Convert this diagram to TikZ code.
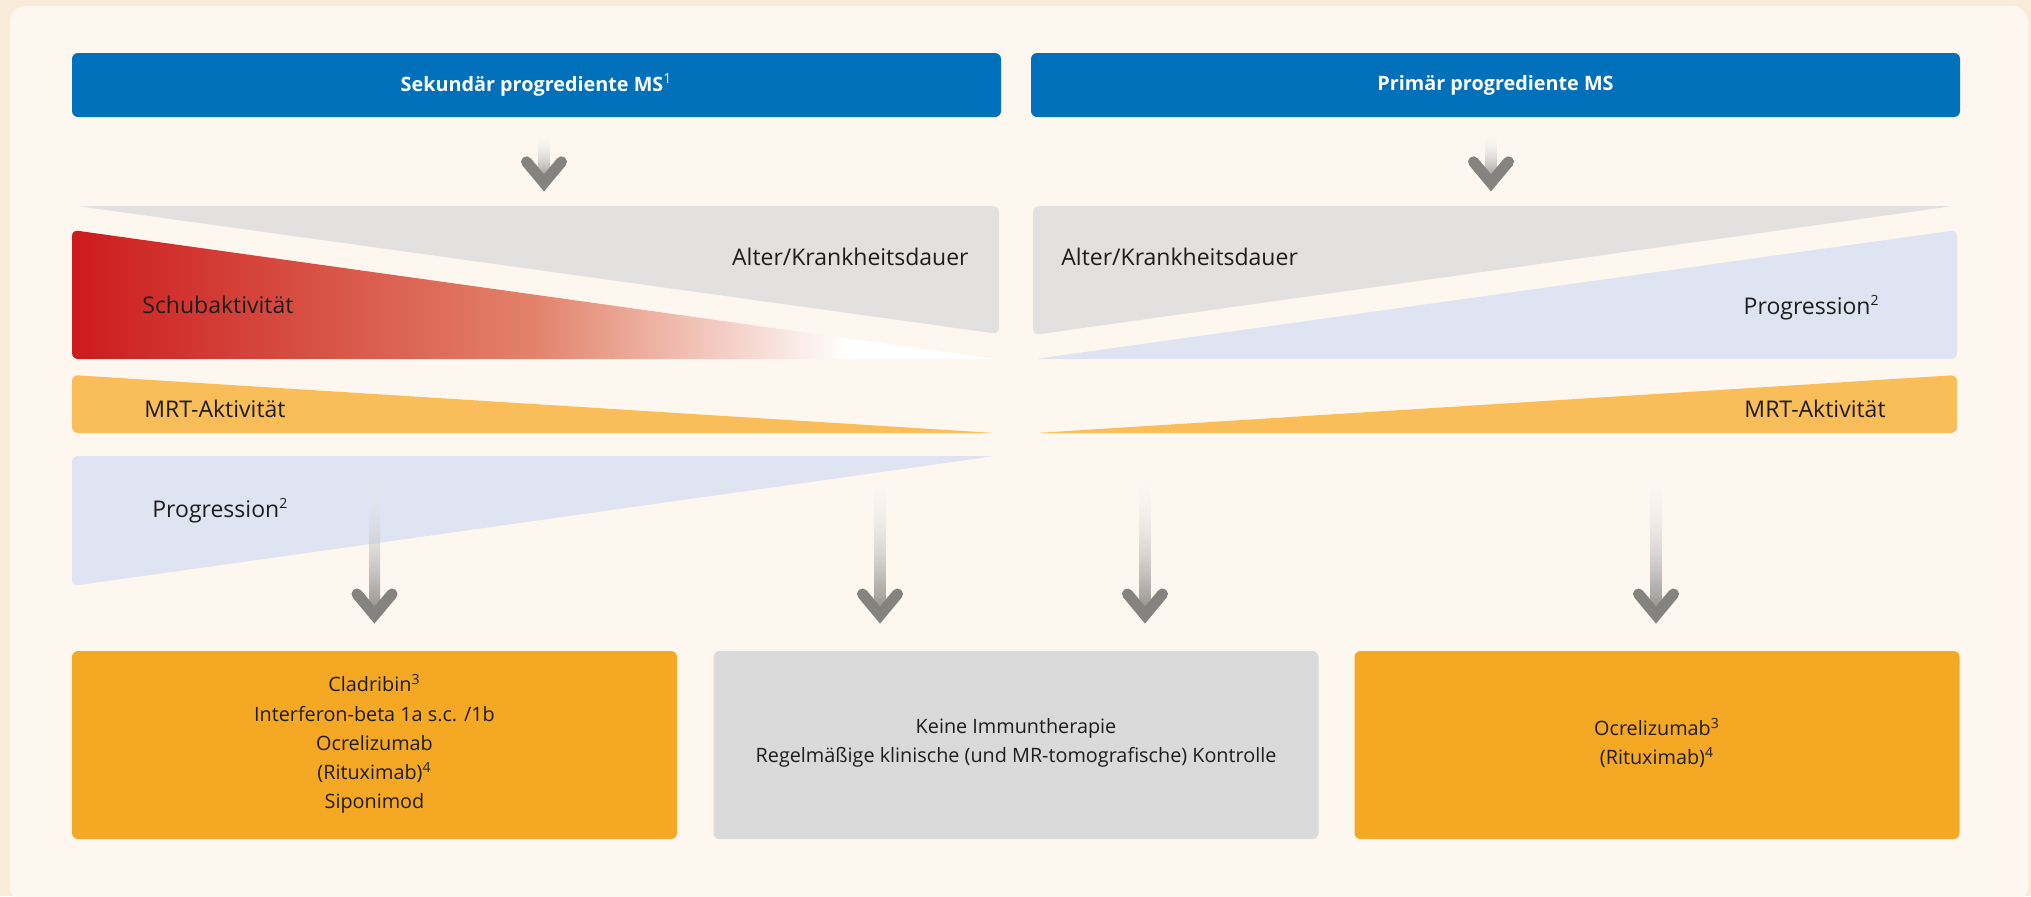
\documentclass[tikz,border=0pt]{standalone}
\usepackage{fontspec}
\setmainfont{Open Sans}
\usetikzlibrary{fadings,calc}
\definecolor{outerbg}{HTML}{F8ECD8}
\definecolor{innerbg}{HTML}{FEF7F0}
\definecolor{hdrblue}{HTML}{0070BA}
\definecolor{wgrey}{HTML}{E2E1DF}
\definecolor{wblue}{HTML}{DEE4F1}
\definecolor{worange}{HTML}{F9BD5A}
\definecolor{wred}{HTML}{CC1B1D}
\definecolor{wredmid}{HTML}{E2826A}
\definecolor{boxorange}{HTML}{F5A823}
\definecolor{boxgrey}{HTML}{DADADA}
\definecolor{arrowgrey}{HTML}{85837F}
\definecolor{txt}{HTML}{1D1D1B}
\pgfdeclarehorizontalshading{redfade}{100bp}{color(0bp)=(wred); color(25bp)=(wred); color(50bp)=(wredmid); color(67bp)=(white); color(100bp)=(white)}
\tikzfading[name=fadetop, top color=transparent!100, bottom color=transparent!0]
\newcommand{\gradarrow}[2]{%
  \path (#1) coordinate (gas) (#2) coordinate (gae);
  \shade[shaft] ($(gas)+(-5.5,0)$) rectangle ($(gae)+(5.5,-12)$);
  \draw[head] ($(gae)+(-17.5,-29.6)$) -- ($(gae)+(0,-8.6)$) -- ($(gae)+(17.5,-29.6)$);
}
\newcommand{\sups}[1]{\textsuperscript{\scriptsize #1}}
\begin{document}
\begin{tikzpicture}[x=0.5pt,y=-0.5pt,
  lbl/.style={font=\fontsize{11.5}{14}\selectfont, text=txt, inner sep=0pt},
  hdr/.style={fill=hdrblue, rounded corners=3pt, minimum width=464.5pt, minimum height=32pt, text=white, font=\fontsize{9.9}{12}\selectfont\bfseries, inner sep=0pt},
  resbox/.style={rounded corners=3pt, minimum width=302.5pt, minimum height=94pt, inner sep=0pt},
  boxtxt/.style={align=center, font=\fontsize{9.9}{14.65}\selectfont, text=txt, inner sep=0pt},
  shaft/.style={top color=arrowgrey!5!white, bottom color=arrowgrey!90!white, path fading=fadetop},
  head/.style={draw=arrowgrey, line width=5.5pt, line cap=round, line join=miter},
  wedge/.style={rounded corners=3pt}
]
\useasboundingbox (0,0) rectangle (2031,896);
\fill[outerbg] (0,0) rectangle (2031,896);
\fill[innerbg, rounded corners=8pt] (10,6) rectangle (2028,902);

% header boxes
\node[hdr] (hdrL) at (536.5,85) {Sekundär progrediente MS\textsuperscript{\mdseries 1}};
\node[hdr] (hdrR) at (1495.5,85) {Primär progrediente MS};

% left wedges
\fill[wgrey, wedge] (77,206) -- (999,206) -- (999,334) -- cycle;
\shade[shading=redfade, wedge] (72,230) -- (995,359) -- (72,359) -- cycle;
\fill[worange, wedge] (72,375) -- (995,433) -- (72,433) -- cycle;
\fill[wblue, wedge] (72,456) -- (995,456) -- (72,586) -- cycle;
% right wedges
\fill[wgrey, wedge] (1033,206) -- (1953,206) -- (1033,335) -- cycle;
\fill[wblue, wedge] (1957,230) -- (1957,359) -- (1035,359) -- cycle;
\fill[worange, wedge] (1957,375) -- (1957,433) -- (1036,433) -- cycle;

% wedge labels
\node[lbl, anchor=base east] (altL) at (969,265) {Alter/Krankheitsdauer};
\node[lbl, anchor=base west] (schub) at (142,313) {Schubaktivität};
\node[lbl, anchor=base west] (mrtL) at (144,417) {MRT-Aktivität};
\node[lbl, anchor=base west] (progL) at (152,517) {Progression\sups{2}};
\node[lbl, anchor=base west] (altR) at (1061,265) {Alter/Krankheitsdauer};
\node[lbl, anchor=base east] (progR) at (1880,314) {Progression\sups{2}};
\node[lbl, anchor=base east] (mrtR) at (1886,417) {MRT-Aktivität};

% result boxes
\node[resbox, fill=boxorange] (box1) at (374.5,745) {};
\node[resbox, fill=boxgrey] (box2) at (1016,745) {};
\node[resbox, fill=boxorange] (box3) at (1657,745) {};
\node[boxtxt] (box1t) at ($(box1.center)+(0,-1)$) {Cladribin\sups{3}\\Interferon-beta 1a s.c. /1b\\Ocrelizumab\\(Rituximab)\sups{4}\\Siponimod};
\node[boxtxt] (box2t) at ($(box2.center)+(0,-2)$) {Keine Immuntherapie\\Regelmäßige klinische (und MR-tomografische) Kontrolle};
\node[boxtxt] (box3t) at ($(box3.center)+(0,-2)$) {Ocrelizumab\sups{3}\\(Rituximab)\sups{4}};

% arrows
\coordinate (tA1) at ($(hdrL.south)+(7.5,16)$);
\coordinate (tA1e) at ($(hdrL.south)+(7.5,74)$);
\coordinate (tA2) at ($(hdrR.south)+(-4.5,16)$);
\coordinate (tA2e) at ($(hdrR.south)+(-4.5,74)$);
\gradarrow{tA1}{tA1e}
\gradarrow{tA2}{tA2e}
\coordinate (bA1) at ($(box1.north)+(0,-175)$);
\coordinate (bA1e) at ($(box1.north)+(0,-27)$);
\coordinate (bA2) at ($(box2.north)+(-136,-175)$);
\coordinate (bA2e) at ($(box2.north)+(-136,-27)$);
\coordinate (bA3) at ($(box2.north)+(129,-175)$);
\coordinate (bA3e) at ($(box2.north)+(129,-27)$);
\coordinate (bA4) at ($(box3.north)+(-1,-175)$);
\coordinate (bA4e) at ($(box3.north)+(-1,-27)$);
\gradarrow{bA1}{bA1e}
\gradarrow{bA2}{bA2e}
\gradarrow{bA3}{bA3e}
\gradarrow{bA4}{bA4e}
\end{tikzpicture}
\end{document}
